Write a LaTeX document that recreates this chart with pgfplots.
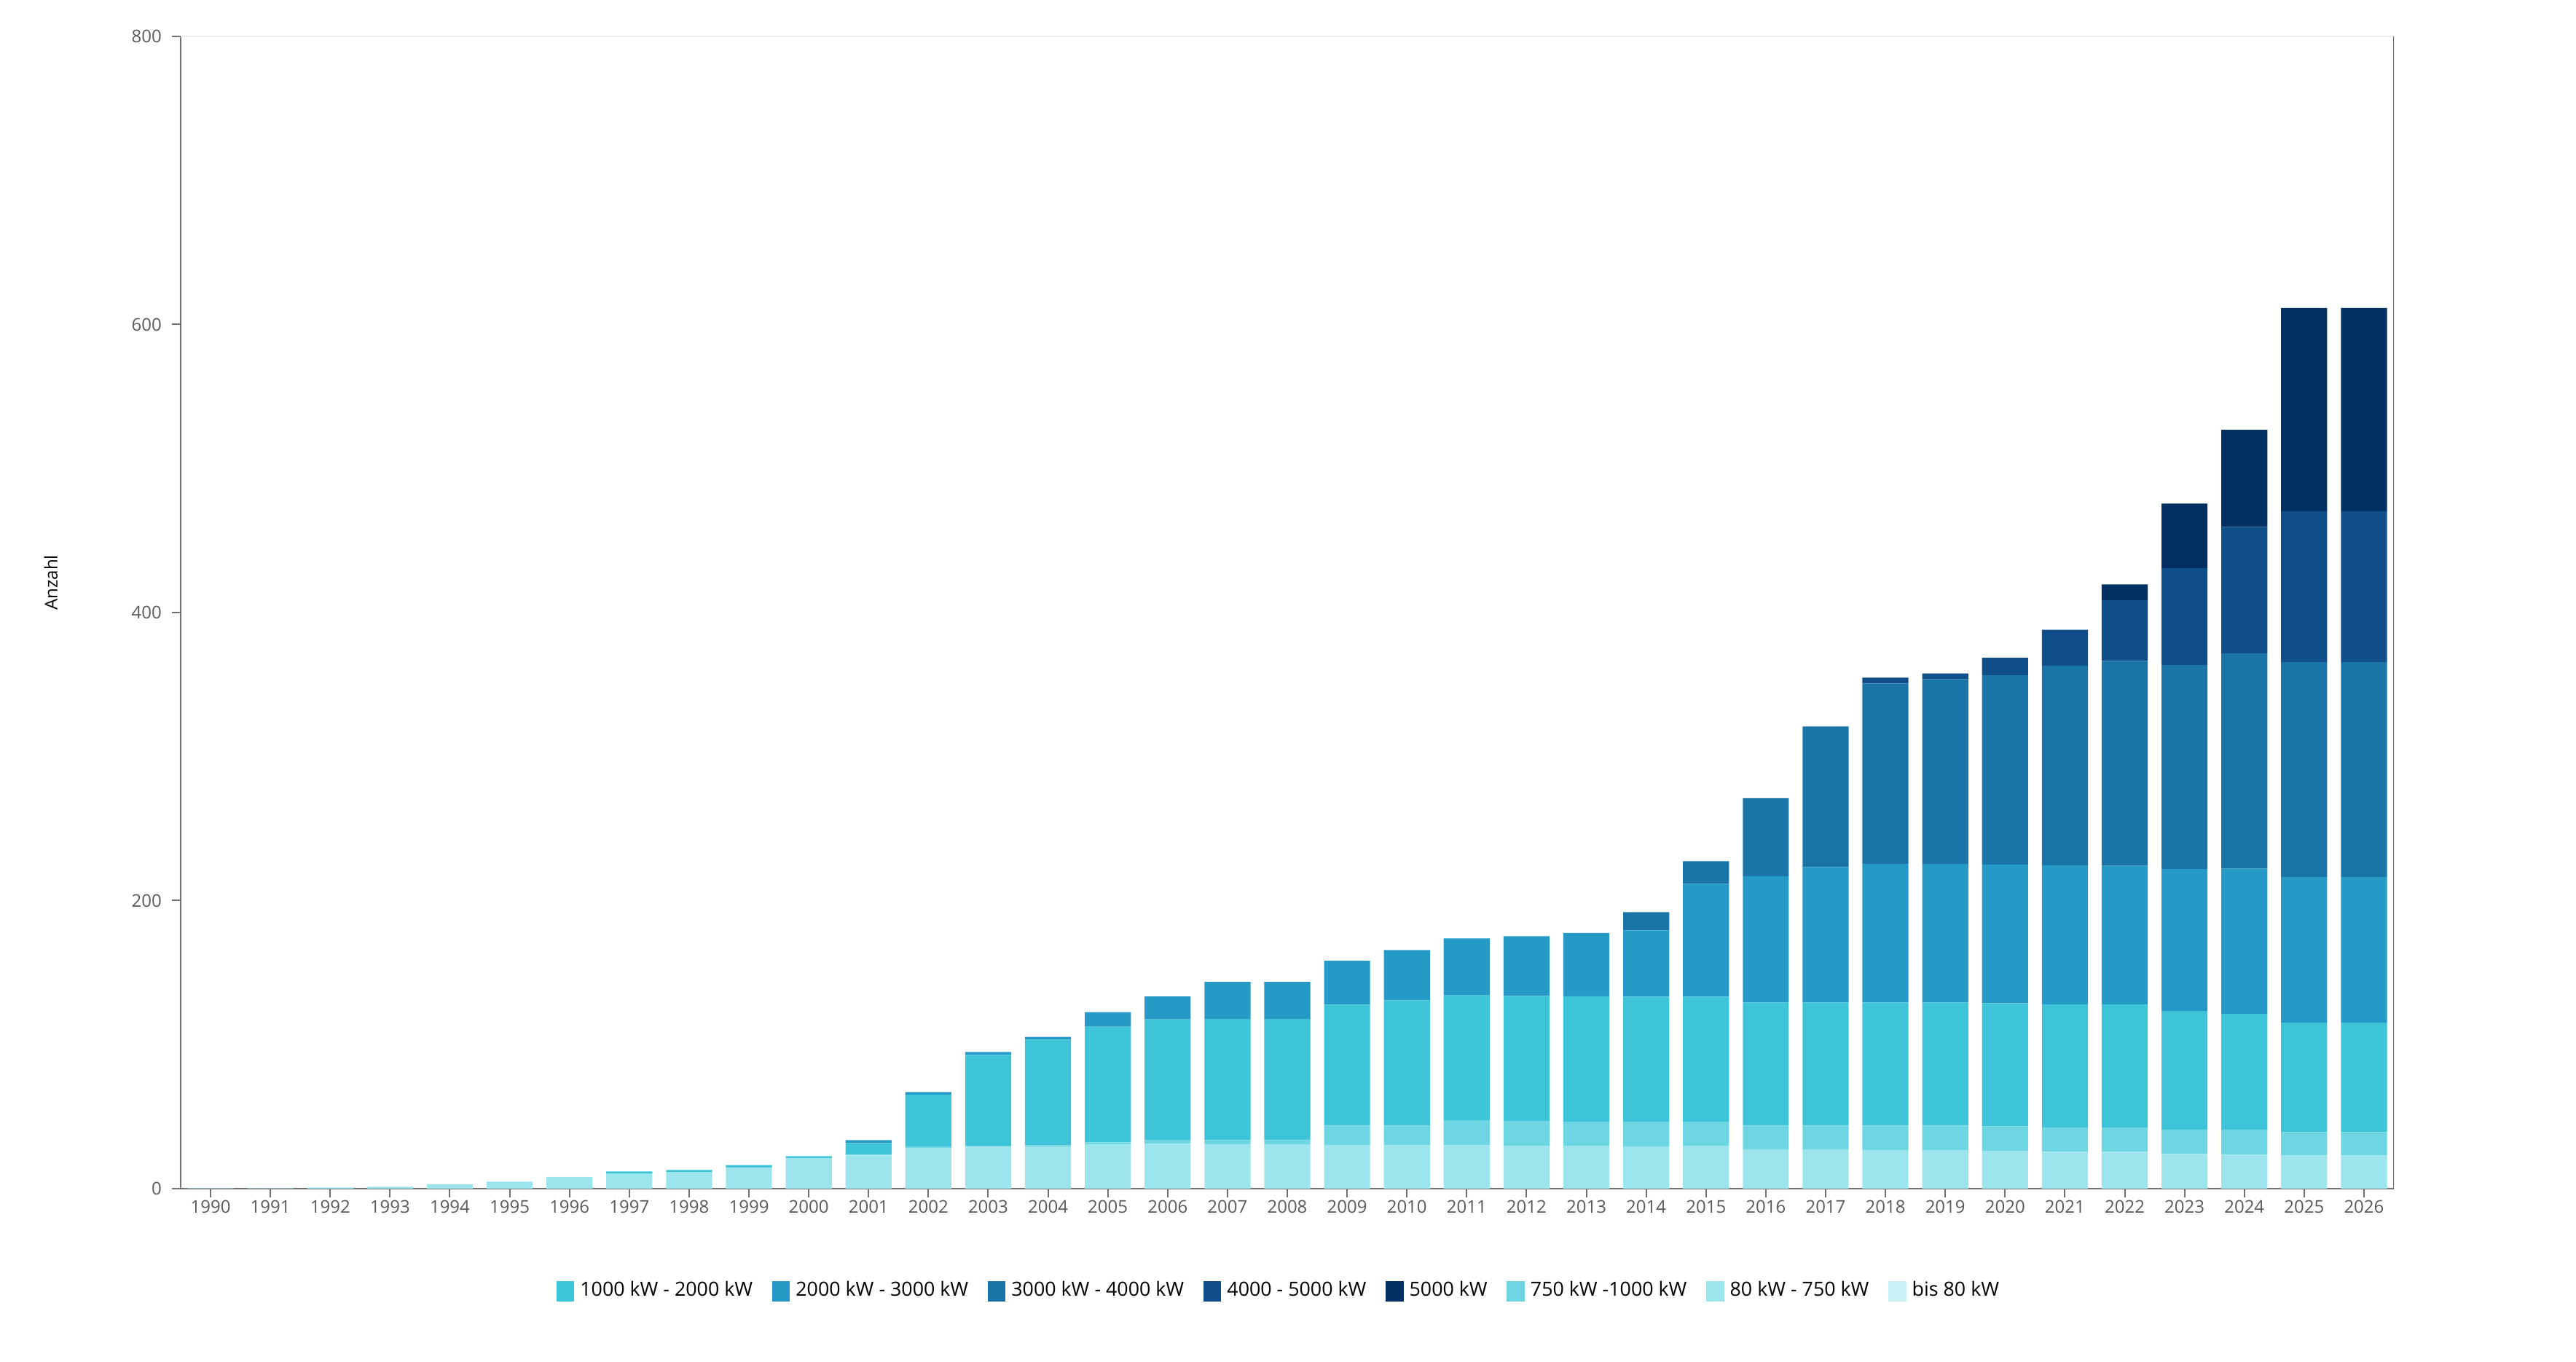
\documentclass[border=0pt]{standalone}
\usepackage{pgfplots}
\usepackage{pgfplotstable}
\pgfplotsset{compat=1.18}
\usepackage{fontspec}
\setmainfont{Open Sans}
\definecolor{cA}{HTML}{C9F1F6}
\definecolor{cB}{HTML}{9DE5EC}
\definecolor{cC}{HTML}{6DD6E2}
\definecolor{cD}{HTML}{3EC4D8}
\definecolor{cE}{HTML}{259AC6}
\definecolor{cF}{HTML}{1A74A8}
\definecolor{cG}{HTML}{0F4E89}
\definecolor{cH}{HTML}{033063}
\definecolor{tickgray}{HTML}{5A5A5A}
\definecolor{axgray}{HTML}{707070}
\pgfplotstableread{
x year s0 s1 s2 s3 s4 s5 s6 s7
0 1990 0 0.3 0 0 0 0 0 0
1 1991 0 0.3 0 0 0 0 0 0
2 1992 0 0.8 0 0 0 0 0 0
3 1993 0 1.3 0 0 0 0 0 0
4 1994 0 3.0 0 0 0 0 0 0
5 1995 0 4.9 0 0 0 0 0 0
6 1996 0 8.1 0 0 0 0 0 0
7 1997 0 10.6 0 1.4 0 0 0 0
8 1998 0 11.6 0 1.4 0 0 0 0
9 1999 0 14.7 0 1.7 0 0 0 0
10 2000 0 21.1 0 1.4 0 0 0 0
11 2001 0 23.1 0.5 8.1 2.0 0 0 0
12 2002 0 28.3 0.9 35.9 2.0 0 0 0
13 2003 0 29.0 0.8 63.1 2.0 0 0 0
14 2004 0 29.2 1.0 73.3 1.9 0 0 0
15 2005 0 30.5 1.7 80.3 10.1 0 0 0
16 2006 0 31.2 2.4 83.9 15.9 0 0 0
17 2007 0 30.5 3.2 84.0 25.8 0 0 0
18 2008 0 30.5 3.2 84.0 25.8 0 0 0
19 2009 0 30.3 13.5 84.0 30.4 0 0 0
20 2010 0 30.2 13.6 87.0 34.9 0 0 0
21 2011 0 30.2 17.2 86.8 39.5 0 0 0
22 2012 0 29.7 17.2 86.9 41.5 0 0 0
23 2013 0 29.7 16.8 87.1 44.0 0 0 0
24 2014 0 29.3 17.1 86.9 46.0 12.6 0 0
25 2015 0 29.5 16.9 86.9 78.3 15.7 0 0
26 2016 0 27.2 16.6 85.5 87.7 54.1 0 0
27 2017 0 27.0 16.8 85.5 94.0 97.6 0 0
28 2018 0 26.8 17.0 85.5 96.2 125.2 4.1 0
29 2019 0 26.8 17.0 85.5 96.2 128.3 3.9 0
30 2020 0 26.3 17.0 85.5 96.2 131.5 12.1 0
31 2021 0 25.6 16.9 85.5 96.4 138.7 25.0 0
32 2022 0 25.6 16.9 85.5 96.2 142.2 42.1 11.0
33 2023 0 24.1 16.9 82.3 98.6 141.6 67.3 44.8
34 2024 0 23.6 17.4 80.3 100.9 149.4 87.9 67.3
35 2025 0 23.1 16.2 75.9 101.1 149.3 104.7 141.1
36 2026 0 23.1 16.2 75.9 101.1 149.3 104.7 141.1
}\data
\pgfplotsset{mysq/.style={legend image code/.code={\fill[#1] (0pt,-3.3pt) rectangle (5.8pt,3.3pt);}}}
\begin{document}
\begin{tikzpicture}
\useasboundingbox (0,0) rectangle (884pt,467.5pt);
\begin{axis}[
  at={(62pt,59.5pt)}, anchor=south west,
  scale only axis, width=759.5pt, height=395.5pt,
  ybar stacked, bar width=0.77,
  xmin=-0.5, xmax=36.5, ymin=0, ymax=800,
  ytick={0,200,400,600,800},
  xtick={0,...,36},
  xticklabels from table={\data}{year},
  axis x line*=bottom, axis y line*=left,
  axis line style={axgray, line width=0.7pt},
  tick style={axgray, line width=0.5pt},
  major tick length=3pt, tick align=outside,
  /pgf/number format/assume math mode=true,
  ticklabel style={font=\fontsize{6}{7}\selectfont, text=tickgray},
  xticklabel style={yshift=2.6pt},
  ylabel={Anzahl},
  ylabel style={at={(axis description cs:-0.0586,0.526)}, anchor=center, font=\fontsize{6}{7}\selectfont},
  legend columns=8,
  legend style={draw=none, fill=none, at={(axis description cs:0.497,-0.089)}, anchor=center,
    font=\fontsize{6.7}{8}\selectfont,
    /tikz/every even column/.append style={column sep=4.6pt}},
  legend cell align=left,
]
\addplot[fill=cA, draw=none, forget plot] table[x=x, y=s0] {\data};
\addplot[fill=cB, draw=none, forget plot] table[x=x, y=s1] {\data};
\addplot[fill=cC, draw=none, forget plot] table[x=x, y=s2] {\data};
\addplot[fill=cD, draw=none, forget plot] table[x=x, y=s3] {\data};
\addplot[fill=cE, draw=none, forget plot] table[x=x, y=s4] {\data};
\addplot[fill=cF, draw=none, forget plot] table[x=x, y=s5] {\data};
\addplot[fill=cG, draw=none, forget plot] table[x=x, y=s6] {\data};
\addplot[fill=cH, draw=none, forget plot] table[x=x, y=s7] {\data};
\addlegendimage{mysq=cD}\addlegendentry{1000 kW - 2000 kW}
\addlegendimage{mysq=cE}\addlegendentry{2000 kW - 3000 kW}
\addlegendimage{mysq=cF}\addlegendentry{3000 kW - 4000 kW}
\addlegendimage{mysq=cG}\addlegendentry{4000 - 5000 kW}
\addlegendimage{mysq=cH}\addlegendentry{5000 kW}
\addlegendimage{mysq=cC}\addlegendentry{750 kW -1000 kW}
\addlegendimage{mysq=cB}\addlegendentry{80 kW - 750 kW}
\addlegendimage{mysq=cA}\addlegendentry{bis 80 kW}
\draw[axgray, line width=0.5pt] (rel axis cs:1,0) -- (rel axis cs:1,1);
\draw[black!7, line width=0.5pt] (rel axis cs:0,1) -- (rel axis cs:1,1);
\end{axis}
\end{tikzpicture}
\end{document}
